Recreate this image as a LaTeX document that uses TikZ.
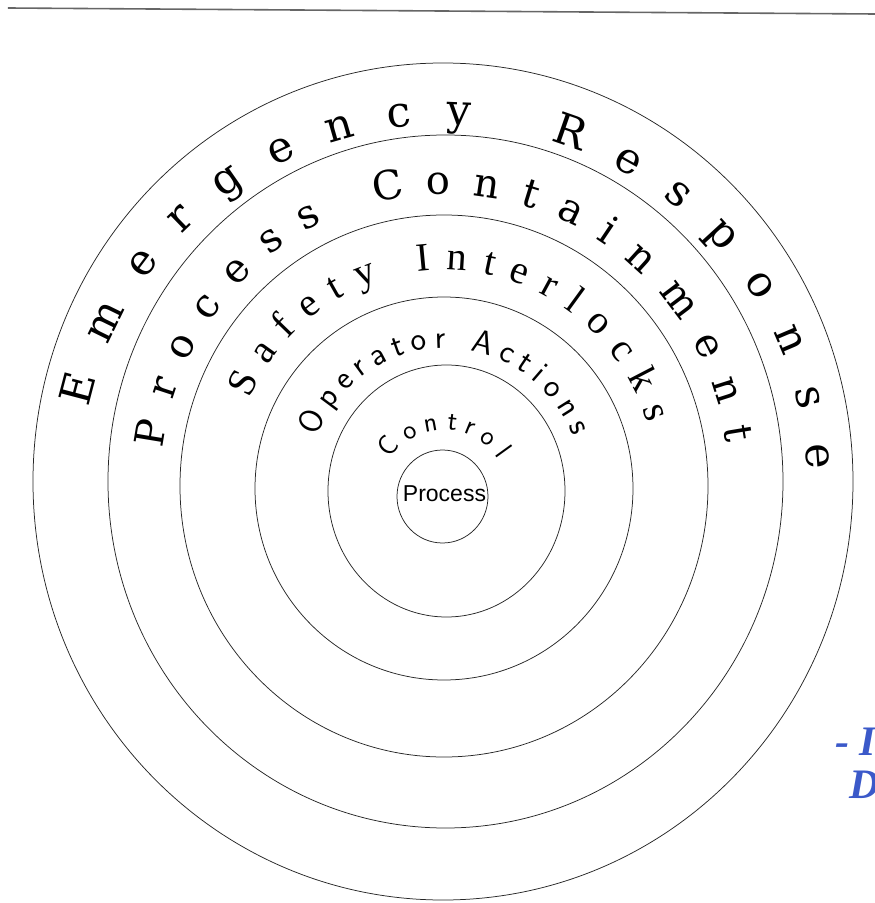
\documentclass[tikz,border=0pt]{standalone}
\usepackage{fontspec}
\usepackage{xcolor}
\usepackage{tikz}
\usetikzlibrary{calc,decorations.text}
\newfontfamily\ringfont{DejaVu Serif}
\newfontfamily\lockfont{Liberation Serif}
\newfontfamily\corefont{Liberation Sans}
\definecolor{noteblue}{RGB}{59,89,201}

\begin{document}
\begin{tikzpicture}[x=1pt, y=1pt,
  ring/.style={draw=black!85, line width=0.75pt},
  ringtext/.style={decorate, decoration={text along path, text align={fit to path}, text={#1}}},
  topline/.style={draw=black!60, line width=1.6pt},
  note/.style={text=noteblue, anchor=north west, align=left, inner sep=0pt}
]
\useasboundingbox (-444,-417) rectangle (431,486);
\coordinate (ruleL) at (-436,478);
\coordinate (ruleR) at (431,472);
\draw[topline] (ruleL)--(ruleR);

\coordinate (cEmer) at (-1,4.5);
\coordinate (cCont) at (1.5,4.5);
\coordinate (cSafe) at (0,0);
\coordinate (cOper) at (0,-2.5);
\coordinate (cCtrl) at (2.5,-5);
\coordinate (cProc) at (-1.5,-10.5);
\coordinate (cWord) at (0,-8);

\draw[ring] (cEmer) ellipse [x radius=410pt, y radius=418.5pt];
\draw[ring] (cCont) ellipse [x radius=337.5pt, y radius=346.5pt];
\draw[ring] (cSafe) ellipse [x radius=264pt, y radius=271pt];
\draw[ring] (cOper) ellipse [x radius=189pt, y radius=191.5pt];
\draw[ring] (cCtrl) ellipse [x radius=118.5pt, y radius=126pt];
\draw[ring] (cProc) ellipse [x radius=45.5pt, y radius=46.5pt];

\path[ringtext={|\ringfont\fontsize{43}{43}\selectfont|Emergency Response}]
  ($(0,4)+(168:363pt and 357pt)$) arc[start angle=168, end angle=2, x radius=363pt, y radius=357pt];
\path[ringtext={|\ringfont\fontsize{40}{40}\selectfont|Process Containment}]
  ($(1,2)+(173:284pt and 290pt)$) arc[start angle=173, end angle=8, x radius=284pt, y radius=290pt];
\path[ringtext={|\lockfont\fontsize{40}{40}\selectfont|Safety Interlocks}]
  ($(0,-1)+(156:213pt and 217pt)$) arc[start angle=156, end angle=17, x radius=213pt, y radius=217pt];
\path[ringtext={|\sffamily\fontsize{33}{33}\selectfont|Operator Actions}]
  ($(1,-4)+(158:138pt and 142pt)$) arc[start angle=158, end angle=22, x radius=138pt, y radius=142pt];
\path[ringtext={|\sffamily\fontsize{28}{28}\selectfont|Control}]
  ($(cWord)+(147:64pt)$) arc[start angle=147, end angle=33, radius=64pt];

\node[font=\corefont\fontsize{23}{23}\selectfont] (process) at (0.5,-8) {Process};
\node[note, font=\lockfont\bfseries\itshape\fontsize{42}{43}\selectfont] (remark) at (391,-242) {- In\\\hspace*{14pt}D};
\end{tikzpicture}
\end{document}
